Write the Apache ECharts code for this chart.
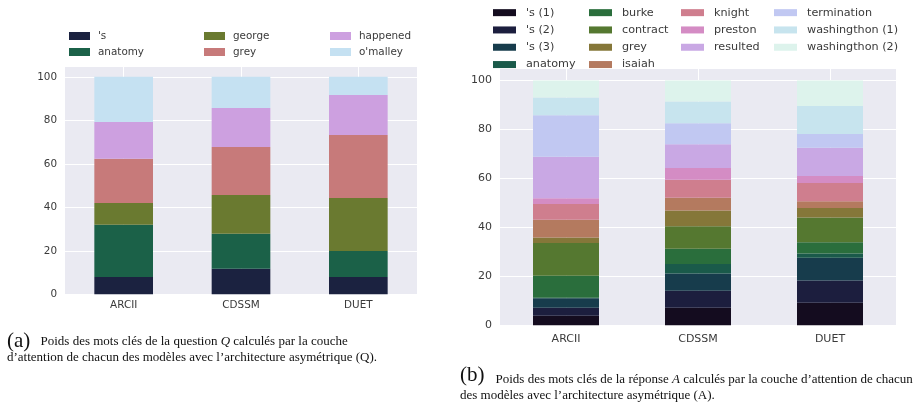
<!DOCTYPE html>
<html>
<head>
<meta charset="utf-8">
<script src="https://cdn.jsdelivr.net/npm/echarts@6/dist/echarts.min.js"></script>
<style>
html,body{margin:0;padding:0;background:#fff;}
#chart{width:915px;height:406px;}
</style>
</head>
<body>
<div id="chart"></div>
<script>
// ---------- data ----------
var categories = ['ARCII', 'CDSSM', 'DUET'];
var yTicks = [0, 20, 40, 60, 80, 100];

// (a) question keywords
var namesA = ["'s", 'anatomy', 'george', 'grey', 'happened', "o'malley"];
var valuesA = [
  [8.0, 11.7, 8.0],     // 's
  [24.0, 16.1, 11.9],   // anatomy
  [10.0, 17.9, 24.4],   // george
  [20.3, 22.1, 29.0],   // grey
  [17.0, 17.9, 18.4],   // happened
  [20.7, 14.3, 8.3]     // o'malley
];
var colorsA = ['#1b2240', '#1b6148', '#6a7a30', '#c77a7a', '#cda0e0', '#c5e1f2'];

// (b) answer keywords
var namesB = ["'s (1)", "'s (2)", "'s (3)", 'anatomy', 'burke', 'contract', 'grey', 'isaiah',
              'knight', 'preston', 'resulted', 'termination', 'washingthon (1)', 'washingthon (2)'];
var valuesB = [
  [3.9, 7.2, 9.2],    // 's (1)
  [3.3, 6.9, 9.1],    // 's (2)
  [3.9, 7.1, 9.3],    // 's (3)
  [0.2, 3.8, 1.7],    // anatomy
  [8.9, 6.3, 4.6],    // burke
  [13.4, 9.2, 10.1],  // contract
  [2.3, 6.4, 3.9],    // grey
  [7.2, 5.2, 2.8],    // isaiah
  [6.5, 7.4, 7.4],    // knight
  [2.3, 4.8, 2.9],    // preston
  [17.0, 9.7, 11.5],  // resulted
  [16.9, 8.6, 5.7],   // termination
  [7.3, 8.8, 11.4],   // washingthon (1)
  [6.9, 8.6, 10.4]    // washingthon (2)
];
var colorsB = ['#140c1f', '#1c1e3e', '#173c4c', '#1a5a4a', '#2a6e3c', '#557830', '#857739',
               '#b47a5f', '#cf7e8e', '#d48cc4', '#c9a8e4', '#c1c8f2', '#c7e4ee', '#ddf3ec'];

var legendColsA = [[0, 1], [2, 3], [4, 5]];
var legendColsB = [[0, 1, 2, 3], [4, 5, 6, 7], [8, 9, 10], [11, 12, 13]];

// ---------- options ----------
var FONT = 'DejaVu Sans';
var TXT = '#3a3a3a';

function yAxis(gridIndex, fs) {
  return {
    type: 'value', gridIndex: gridIndex, min: 0, max: 105, interval: 20,
    axisLine: {show: false}, axisTick: {show: false},
    axisLabel: {color: TXT, fontFamily: FONT, fontSize: fs, margin: 8,
      formatter: function (v) { return yTicks.indexOf(v) >= 0 ? String(v) : ''; }},
    splitLine: {show: true, lineStyle: {color: '#ffffff', width: 1}}
  };
}
function xAxis(gridIndex, fs, margin) {
  return {
    type: 'category', gridIndex: gridIndex, data: categories,
    axisLine: {show: false}, axisTick: {show: false},
    axisLabel: {color: TXT, fontFamily: FONT, fontSize: fs, margin: margin},
    splitLine: {show: false}
  };
}
function gridLines() {
  return {
    silent: true, symbol: 'none', z: 1, animation: false,
    label: {show: false},
    lineStyle: {color: '#ffffff', width: 1, type: 'solid'},
    emphasis: {disabled: true},
    data: categories.map(function (c) { return {xAxis: c}; })
  };
}

var series = [];
namesA.forEach(function (n, i) {
  var s = {
    name: n, type: 'bar', stack: 'a', xAxisIndex: 0, yAxisIndex: 0,
    barWidth: '50%', data: valuesA[i], itemStyle: {color: colorsA[i]},
    emphasis: {disabled: true}, animation: false
  };
  if (i === 0) s.markLine = gridLines();
  series.push(s);
});
namesB.forEach(function (n, i) {
  var s = {
    name: n, type: 'bar', stack: 'b', xAxisIndex: 1, yAxisIndex: 1,
    barWidth: '50%', data: valuesB[i], itemStyle: {color: colorsB[i]},
    emphasis: {disabled: true}, animation: false
  };
  if (i === 0) s.markLine = gridLines();
  series.push(s);
});

var legends = [];
var colXA = [69, 204, 330];
legendColsA.forEach(function (col, k) {
  legends.push({
    orient: 'vertical', left: colXA[k], top: 28, padding: 0, itemGap: 0,
    itemWidth: 21, itemHeight: 8, icon: 'rect', selectedMode: false,
    textStyle: {color: TXT, fontFamily: FONT, fontSize: 10.4, lineHeight: 16, padding: [0, 0, 0, 3]},
    data: col.map(function (i) { return {name: namesA[i], itemStyle: {color: colorsA[i]}}; })
  });
});
var colXB = [493, 589, 681, 774];
legendColsB.forEach(function (col, k) {
  legends.push({
    orient: 'vertical', left: colXB[k], top: 4, padding: 0, itemGap: 0,
    itemWidth: 23, itemHeight: 7, icon: 'rect', selectedMode: false,
    textStyle: {color: TXT, fontFamily: FONT, fontSize: 11.2, lineHeight: 17.3, padding: [0, 0, 0, 5]},
    data: col.map(function (i) { return {name: namesB[i], itemStyle: {color: colorsB[i]}}; })
  });
});

var SERIF = 'Liberation Serif';
var CAPFONT = '13px "' + SERIF + '"';
var BIGFONT = '21px "' + SERIF + '"';
var richI = {i: {fontStyle: 'italic', fontFamily: SERIF, fontSize: 13}};

var option = {
  backgroundColor: '#ffffff',
  animation: false,
  grid: [
    {left: 65, right: 498, top: 66, bottom: 111.7, show: true, backgroundColor: '#eaeaf2', borderWidth: 0},
    {left: 500, right: 19, top: 68.3, bottom: 80.7, show: true, backgroundColor: '#eaeaf2', borderWidth: 0}
  ],
  xAxis: [xAxis(0, 10.4, 6), xAxis(1, 11, 8)],
  yAxis: [yAxis(0, 10.4), yAxis(1, 11)],
  legend: legends,
  series: series,
  graphic: [
    {type: 'text', left: 7, top: 330.5, style: {text: '(a)', fill: '#111', font: BIGFONT}},
    {type: 'text', left: 40.5, top: 335.5, style: {fill: '#111', font: CAPFONT, rich: richI,
      text: 'Poids des mots clés de la question {i|Q} calculés par la couche'}},
    {type: 'text', left: 7, top: 351, style: {fill: '#111', font: CAPFONT,
      text: 'd\u2019attention de chacun des modèles avec l\u2019architecture asymétrique (Q).'}},
    {type: 'text', left: 460, top: 364.5, style: {text: '(b)', fill: '#111', font: BIGFONT}},
    {type: 'text', left: 495.5, top: 373.5, style: {fill: '#111', font: CAPFONT, rich: richI,
      text: 'Poids des mots clés de la réponse {i|A} calculés par la couche d\u2019attention de chacun'}},
    {type: 'text', left: 460, top: 389, style: {fill: '#111', font: CAPFONT,
      text: 'des modèles avec l\u2019architecture asymétrique (A).'}}
  ]
};

var chart = echarts.init(document.getElementById('chart'), null, {renderer: 'canvas'});
chart.setOption(option);
</script>
</body>
</html>
